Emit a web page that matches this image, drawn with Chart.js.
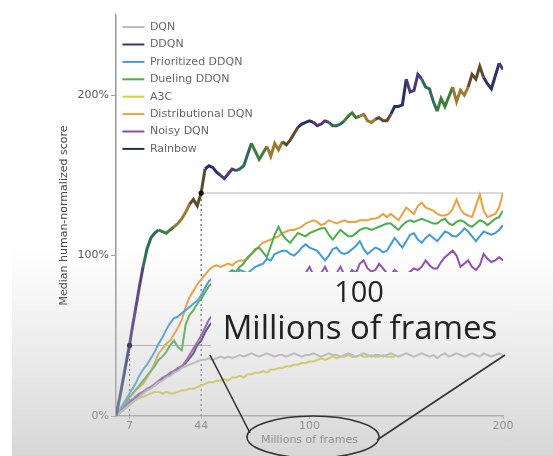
<!DOCTYPE html>
<html>
<head>
<meta charset="utf-8">
<script src="https://cdn.jsdelivr.net/npm/chart.js@4.4.1/dist/chart.umd.min.js"></script>
<style>
  html, body { margin: 0; padding: 0; background: #fff; }
  #wrap { position: relative; width: 553px; height: 456px; overflow: hidden; }
  #chart { position: absolute; left: 0; top: 0; }
  #overlay { position: absolute; left: 0; top: 0; pointer-events: none; }
</style>
</head>
<body>
<div id="wrap">
  <canvas id="chart" width="553" height="456"></canvas>
  <svg id="overlay" width="553" height="456" xmlns="http://www.w3.org/2000/svg">
    <defs>
      <linearGradient id="haze" x1="0" y1="0" x2="0" y2="1">
        <stop offset="0.54" stop-color="#c6c6c6" stop-opacity="0"/>
        <stop offset="1" stop-color="#c0c0c0" stop-opacity="0.64"/>
      </linearGradient>
    </defs>
    <!-- caption panel -->
    <rect x="211" y="272" width="300" height="78" fill="#ffffff"/>
    <rect x="0" y="0" width="553" height="456" fill="url(#haze)"/>
    <rect x="0" y="0" width="12" height="456" fill="#ffffff"/>
    <!-- callout around the axis label -->
    <line x1="210" y1="355" x2="250" y2="433" stroke="#333" stroke-width="1.6"/>
    <line x1="377" y1="440" x2="505" y2="355" stroke="#333" stroke-width="1.6"/>
    <ellipse cx="313" cy="437" rx="66" ry="21" fill="none" stroke="#333" stroke-width="1.6"/>
    <text x="359" y="302" text-anchor="middle" font-family="Open Sans" font-size="29" fill="#222">100</text>
    <text x="360" y="339" text-anchor="middle" font-family="Open Sans" font-size="33" fill="#222">Millions of frames</text>
  </svg>
</div>
<script>
// Training frames (millions) at which each agent is evaluated
const frames = [0, 2, 4, 6, 7, 8,
  10, 12, 14, 16, 18, 20, 22, 24, 26, 28, 30, 32, 34, 36, 38, 40, 42, 44, 46, 48,
  50, 52, 54, 56, 58, 60, 62, 64, 66, 68, 70, 72, 74, 76, 78, 80, 82, 84, 86, 88,
  90, 92, 94, 96, 98, 100, 102, 104, 106, 108, 110, 112, 114, 116, 118, 120, 122, 124, 126, 128,
  130, 132, 134, 136, 138, 140, 142, 144, 146, 148, 150, 152, 154, 156, 158, 160, 162, 164, 166, 168,
  170, 172, 174, 176, 178, 180, 182, 184, 186, 188, 190, 192, 194, 196, 198, 200];

const xTicks = [7, 44, 100, 200];
const yTicks = [0, 100, 200];

// Median human-normalized score (%) per agent
const dqn = [0, 2, 4, 6, 7, 8,
  10, 12, 14, 16, 17, 19, 21, 22, 24, 25, 27, 28, 30, 31, 32, 33, 34, 35, 35, 36,
  35, 36, 37, 36, 37, 36, 37, 38, 37, 38, 39, 38, 37, 38, 39, 38, 37, 38, 38, 37,
  38, 39, 38, 37, 38, 38, 39, 38, 37, 38, 39, 38, 38, 37, 38, 39, 38, 37, 38, 39,
  38, 37, 38, 38, 37, 38, 39, 38, 37, 38, 39, 38, 37, 38, 39, 38, 37, 38, 36, 38,
  39, 37, 38, 39, 38, 37, 38, 39, 38, 37, 39, 38, 37, 38, 39, 38];

const ddqn = [0, 2, 4, 7, 8, 9,
  11, 13, 15, 16, 18, 19, 21, 23, 25, 26, 28, 29, 31, 33, 36, 39, 44, 47, 52, 56,
  59, 61, 63, 64, 66, 67, 68, 70, 71, 72, 73, 74, 73, 75, 76, 75, 77, 78, 77, 79,
  80, 79, 81, 80, 82, 81, 83, 82, 80, 83, 84, 82, 81, 84, 85, 83, 82, 84, 86, 84,
  83, 85, 86, 84, 83, 85, 86, 84, 83, 85, 86, 84, 85, 87, 85, 84, 86, 87, 85, 84,
  86, 87, 85, 84, 86, 87, 85, 86, 88, 86, 85, 87, 88, 86, 85, 87];

const prioritized = [0, 4, 8, 12, 14, 16,
  20, 25, 29, 32, 36, 40, 45, 49, 54, 58, 61, 62, 64, 66, 68, 70, 72, 75, 80, 84,
  86, 88, 87, 89, 88, 90, 88, 91, 90, 89, 91, 93, 94, 95, 98, 97, 101, 102, 103, 103,
  101, 100, 102, 105, 107, 105, 104, 103, 100, 97, 100, 104, 105, 102, 101, 102, 104, 106, 109, 104,
  101, 103, 105, 104, 102, 103, 107, 111, 108, 105, 109, 113, 114, 110, 108, 111, 113, 111, 109, 112,
  115, 114, 112, 112, 114, 117, 115, 112, 109, 112, 115, 114, 113, 114, 116, 119];

const dueling = [0, 3, 6, 10, 12, 13,
  16, 19, 22, 25, 28, 31, 35, 37, 40, 44, 47, 43, 41, 57, 63, 66, 70, 73, 77, 81,
  83, 85, 86, 88, 89, 91, 90, 93, 95, 99, 101, 104, 105, 102, 99, 106, 113, 118, 113, 110,
  108, 111, 114, 113, 112, 114, 115, 116, 117, 117, 113, 110, 113, 116, 114, 112, 112, 114, 116, 117,
  117, 116, 117, 118, 119, 120, 120, 118, 116, 119, 121, 122, 121, 122, 123, 122, 121, 120, 120, 122,
  123, 120, 119, 121, 122, 121, 119, 118, 120, 122, 121, 119, 121, 123, 124, 128];

const a3c = [0, 2, 4, 6, 7, 8,
  10, 11, 12, 13, 14, 15, 15, 14, 15, 14, 14, 15, 16, 16, 17, 17, 18, 19, 20, 21,
  21, 22, 22, 23, 22, 24, 24, 25, 24, 26, 26, 27, 27, 28, 27, 29, 29, 30, 30, 31,
  31, 32, 32, 33, 33, 34, 34, 35, 36, 35, 36, 37, 36, 37, 37, 38, 37, 37, 38, 37,
  37, 38, 37, 37, 38, 37, 37, 37, null, null, null, null, null, null, null, null, null, null, null, null,
  null, null, null, null, null, null, null, null, null, null, null, null, null, null, null, null];

const distributional = [0, 3, 6, 10, 12, 13,
  16, 18, 20, 24, 28, 33, 39, 42, 45, 47, 51, 55, 60, 68, 74, 78, 82, 85, 88, 91,
  93, 94, 93, 94, 95, 94, 96, 97, 97, 98, 101, 103, 106, 108, 109, 110, 111, 112, 114, 115,
  116, 116, 117, 118, 120, 121, 122, 121, 119, 120, 122, 121, 120, 121, 122, 121, 121, 121, 122, 122,
  122, 123, 123, 124, 126, 124, 126, 124, 122, 126, 130, 128, 126, 131, 133, 130, 129, 128, 126, 125,
  125, 126, 129, 135, 129, 126, 125, 124, 131, 138, 128, 124, 125, 126, 130, 139];

const noisy = [0, 2, 5, 8, 9, 10,
  12, 14, 15, 17, 18, 20, 22, 24, 25, 27, 28, 30, 31, 34, 38, 42, 46, 50, 55, 60,
  63, 65, 68, 70, 71, 73, 74, 76, 77, 78, 80, 79, 81, 82, 81, 83, 84, 83, 85, 86,
  85, 86, 88, 86, 89, 93, 88, 86, 89, 93, 88, 86, 89, 93, 88, 87, 91, 89, 95, 97,
  92, 90, 91, 95, 92, 89, 88, 91, 89, 87, 88, 90, 92, 91, 93, 97, 94, 92, 92, 96,
  99, 101, 103, 100, 93, 95, 97, 93, 91, 94, 101, 98, 96, 97, 99, 97];

const rainbow = [0, 12, 25, 38, 44, 52,
  66, 80, 93, 104, 111, 114, 116, 115, 114, 116, 118, 120, 123, 127, 132, 135, 131, 139, 154, 156,
  155, 152, 150, 148, 151, 154, 153, 154, 156, 163, 170, 165, 160, 164, 168, 162, 170, 166, 171, 169,
  172, 176, 180, 182, 183, 184, 183, 181, 182, 184, 183, 181, 181, 182, 184, 187, 189, 186, 187, 188,
  184, 183, 185, 186, 184, 184, 188, 193, 193, 194, 210, 202, 203, 213, 210, 205, 204, 196, 190, 198,
  193, 199, 205, 196, 203, 200, 205, 213, 210, 218, 211, 207, 204, 212, 220, 216];

const seriesNames = ['DQN', 'DDQN', 'Prioritized DDQN', 'Dueling DDQN', 'A3C',
  'Distributional DQN', 'Noisy DQN', 'Rainbow'];
const seriesValues = [dqn, ddqn, prioritized, dueling, a3c, distributional, noisy, rainbow];
const seriesColors = ['#bababa', '#3c3274', '#3f9bd9', '#47b04c', '#d9cf3c',
  '#eea03a', '#8f4ab2', '#22382f'];
const seriesOrder = [1, 7, 3, 4, 6, 5, 2, 0];

// Rainbow is drawn as a multi-coloured line
const rainbowPalette = ['#28306e', '#4f3677', '#2a6c57', '#3f7e3a', '#9c7a32', '#5c4a2b'];
// Frames where Rainbow matches the baselines' final scores
const markFrames = [7, 44];

const FONT = 'DejaVu Sans';

function points(vals) {
  return frames.map((f, i) => ({ x: f, y: vals[i] }));
}
function rainbowAt(f) {
  return rainbow[frames.indexOf(f)];
}

const datasets = seriesNames.map((name, k) => {
  const isRainbow = name === 'Rainbow';
  return {
    label: name,
    data: points(seriesValues[k]),
    borderColor: seriesColors[k],
    backgroundColor: seriesColors[k],
    borderWidth: isRainbow ? 3 : 2,
    tension: 0,
    spanGaps: false,
    order: seriesOrder[k],
    pointRadius: isRainbow
      ? (ctx) => (markFrames.includes(frames[ctx.dataIndex]) ? 2.6 : 0)
      : 0,
    pointBackgroundColor: '#111',
    pointBorderColor: '#111',
    pointBorderWidth: 0,
    segment: isRainbow
      ? { borderColor: (ctx) => rainbowPalette[Math.floor(ctx.p0DataIndex / 4) % rainbowPalette.length] }
      : undefined
  };
});

// Guide lines from the Rainbow marks
const guide = (pts, color, dash) => ({
  label: '',
  data: pts,
  borderColor: color,
  borderWidth: 1,
  borderDash: dash,
  pointRadius: 0,
  order: 20
});
const r7 = rainbowAt(markFrames[0]);
const r44 = rainbowAt(markFrames[1]);
datasets.push(
  guide([{ x: markFrames[0], y: 0 }, { x: markFrames[0], y: r7 }], '#555', [2, 3]),
  guide([{ x: markFrames[1], y: 0 }, { x: markFrames[1], y: r44 }], '#444', [2, 3]),
  guide([{ x: markFrames[0], y: r7 }, { x: 200, y: r7 }], '#a8a8a8', []),
  guide([{ x: markFrames[1], y: r44 }, { x: 200, y: r44 }], '#b4b4b4', [])
);

new Chart(document.getElementById('chart'), {
  type: 'line',
  data: { datasets },
  options: {
    responsive: false,
    animation: false,
    devicePixelRatio: 1,
    layout: { padding: { left: 57, right: 50, top: 15, bottom: 0 } },
    plugins: {
      tooltip: { enabled: false },
      legend: {
        position: 'chartArea',
        align: 'start',
        title: { display: true, text: ' ', font: { size: 1 }, padding: { top: 14, bottom: 0 } },
        labels: {
          boxWidth: 22,
          boxHeight: 2,
          padding: 6.4,
          color: '#383838',
          font: { family: FONT, size: 11 },
          generateLabels: () => seriesNames.map((name, i) => ({
            text: name,
            fillStyle: seriesColors[i],
            strokeStyle: seriesColors[i],
            lineWidth: 0,
            hidden: false,
            datasetIndex: i
          }))
        }
      }
    },
    scales: {
      x: {
        type: 'linear',
        min: 0,
        max: 200,
        afterBuildTicks: (s) => { s.ticks = xTicks.map((v) => ({ value: v })); },
        afterFit: (s) => { s.height = 40; },
        ticks: { autoSkip: false, maxRotation: 0, color: '#555', padding: 1,
                 font: { family: FONT, size: 11 } },
        grid: { drawOnChartArea: false, tickLength: 3, color: '#999' },
        border: { color: '#999', width: 1.5 },
        title: { display: true, text: 'Millions of frames', color: '#444',
                 font: { family: FONT, size: 11 }, padding: { top: 0, bottom: 9 } }
      },
      y: {
        type: 'linear',
        min: 0,
        max: 250,
        afterBuildTicks: (s) => { s.ticks = yTicks.map((v) => ({ value: v })); },
        afterFit: (s) => { s.width = 59; },
        ticks: { color: '#555', padding: 2, callback: (v) => v + '%',
                 font: { family: FONT, size: 11 } },
        grid: { drawOnChartArea: false, tickLength: 5, color: '#999' },
        border: { color: '#999', width: 1.5 },
        title: { display: true, text: 'Median human-normalized score', color: '#444',
                 font: { family: FONT, size: 11 }, padding: { top: 1, bottom: 0 } }
      }
    }
  }
});
</script>
</body>
</html>
